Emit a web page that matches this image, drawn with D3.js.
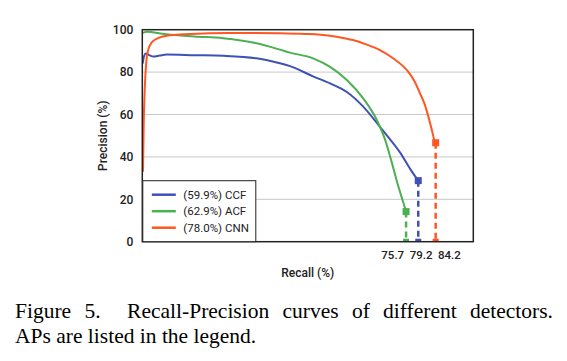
<!DOCTYPE html>
<html>
<head>
<meta charset="utf-8">
<script src="https://cdn.jsdelivr.net/npm/d3@7"></script>
<style>
  body { margin: 0; background: white; }
  svg { display: block; }
</style>
</head>
<body>
<svg id="chart" width="567" height="361"></svg>
<script>
const width = 567;
const height = 361;
const margin = {"top": 29.7, "bottom": 119.3, "right": 93.7, "left": 142.3};

// recall (%), precision (%)
const ccfPoints = [[0.1, 84], [0.5, 87.5], [1, 88.8], [2, 88], [3.2, 87.3], [5, 87.8], [7, 88.3],
  [15, 88], [23.2, 87.7], [32.8, 86.5], [39.5, 84.2], [42.4, 82.8], [49, 78], [53.9, 74.7],
  [58.7, 70.6], [63.4, 63.7], [68.2, 54.2], [71, 48.5], [74, 42], [77, 34], [79.2, 28.8]];
const acfPoints = [[0.1, 98.5], [1.5, 99], [3, 98.8], [7, 97.8], [15, 96.8], [23.2, 96],
  [32.8, 93.6], [39.5, 90.6], [42.4, 89.2], [49, 86.5], [53.9, 82.5], [58.7, 76.3],
  [63.4, 67.6], [67.3, 57.4], [69.7, 48], [71.5, 38], [73.5, 26], [75, 18], [75.7, 14.2]];
const cnnPoints = [[0.2, 33], [0.4, 55], [0.7, 72], [1.1, 84], [1.6, 90], [2.7, 94], [4.5, 96],
  [7, 97.2], [13.7, 98], [25, 98.5], [39.5, 98.3], [48, 98], [53.9, 97.2], [58, 96],
  [60.5, 95.1], [64, 93.2], [68.2, 90.4], [72, 86.5], [76.3, 80.2], [78, 76], [79.7, 70],
  [81, 65], [82.1, 59], [83.2, 52], [83.8, 48], [84.2, 46.7]];

const seriesNames = ["(59.9%) CCF", "(62.9%) ACF", "(78.0%) CNN"];
const seriesColors = ["#3f51b5", "#4caf50", "#ff5722"];
const yTicks = [0, 20, 40, 60, 80, 100];
const recallTicks = [75.7, 79.2, 84.2];

const series = [ccfPoints, acfPoints, cnnPoints];

const w = width - margin.left - margin.right;
const h = height - margin.top - margin.bottom;

let svg = d3.select("#chart");
svg.append("rect").attr("width", width).attr("height", height).attr("fill", "white");

let xScale = d3.scaleLinear().domain([0, 95]).range([0, w]);
let yScale = d3.scaleLinear().domain([0, 100]).range([h, 0]);

let g = svg.append("g").attr("transform", "translate(" + margin.left + "," + margin.top + ")");

svg.append("clipPath").attr("id", "plot")
  .append("rect").attr("x", 0).attr("y", 0).attr("width", w).attr("height", h);

// gridlines
g.selectAll("line.grid")
  .data(yTicks.filter(d => d > 0 && d < 100)).enter()
  .append("line")
    .attr("class", "grid")
    .attr("x1", 0).attr("x2", w)
    .attr("y1", d => yScale(d)).attr("y2", d => yScale(d))
    .attr("stroke", "#c8c8c8").attr("stroke-width", 1);

// y tick labels
g.append("g")
    .call(d3.axisLeft(yScale).tickValues(yTicks).tickSize(0).tickPadding(9))
    .call(a => a.select(".domain").remove())
    .selectAll("text")
      .attr("font-family", "Roboto").attr("font-size", "12px").attr("font-weight", 500)
      .attr("fill", "#222");

let plot = g.append("g").attr("clip-path", "url(#plot)");

// dashed drop lines
series.forEach(function(s, i) {
  let last = s[s.length - 1];
  plot.append("line")
    .attr("x1", xScale(last[0])).attr("x2", xScale(last[0]))
    .attr("y1", yScale(last[1])).attr("y2", yScale(0))
    .attr("stroke", seriesColors[i]).attr("stroke-width", 2.5)
    .attr("stroke-dasharray", "6,4");
});

let line = d3.line()
  .x(d => xScale(d[0]))
  .y(d => yScale(d[1]))
  .curve(d3.curveMonotoneX);

series.forEach(function(s, i) {
  plot.append("path")
    .datum(s)
    .attr("d", line)
    .attr("fill", "none")
    .attr("stroke", seriesColors[i])
    .attr("stroke-width", 2);
});

// end markers
series.forEach(function(s, i) {
  let last = s[s.length - 1];
  plot.append("rect")
    .attr("x", xScale(last[0]) - 3.5).attr("y", yScale(last[1]) - 3.5)
    .attr("width", 7).attr("height", 7)
    .attr("fill", seriesColors[i]);
  plot.append("rect")
    .attr("x", xScale(last[0]) - 3).attr("y", yScale(0) - 3)
    .attr("width", 6).attr("height", 6)
    .attr("fill", seriesColors[i]);
});

// frame
g.append("rect")
  .attr("x", 0).attr("y", 0).attr("width", w).attr("height", h)
  .attr("fill", "none").attr("stroke", "#222").attr("stroke-width", 1.5);

// recall labels: spread out in a row next to the drop lines
const labelGap = 28.3;
g.selectAll("text.rtick")
  .data(recallTicks).enter()
  .append("text")
    .attr("class", "rtick")
    .attr("x", (d, i) => xScale(recallTicks[1]) + 2.8 + (i - 1) * labelGap)
    .attr("y", h + 17)
    .attr("text-anchor", "middle")
    .attr("font-family", "Roboto").attr("font-size", "11.5px").attr("font-weight", 500)
    .attr("fill", "#222")
    .text(d => d.toFixed(1));

// axis titles
g.append("text")
  .attr("x", w / 2).attr("y", h + 35)
  .attr("text-anchor", "middle")
  .attr("font-family", "Roboto").attr("font-size", "12px").attr("font-weight", 500)
  .attr("fill", "#222")
  .text("Recall (%)");

g.append("text")
  .attr("transform", "translate(" + (-35) + "," + (h / 2) + ") rotate(-90)")
  .attr("text-anchor", "middle")
  .attr("font-family", "Roboto").attr("font-size", "12px").attr("font-weight", 500)
  .attr("fill", "#222")
  .text("Precision (%)");

// legend
let legend = g.append("g").attr("transform", "translate(0.5," + (h - 61) + ")");
legend.append("rect")
  .attr("width", 113).attr("height", 61)
  .attr("fill", "white").attr("stroke", "#222").attr("stroke-width", 1);
seriesNames.forEach(function(name, i) {
  let yy = 14 + i * 16.5;
  legend.append("line")
    .attr("x1", 9).attr("x2", 33).attr("y1", yy).attr("y2", yy)
    .attr("stroke", seriesColors[i]).attr("stroke-width", 2.5);
  legend.append("text")
    .attr("x", 40.5).attr("y", yy + 4)
    .attr("font-family", "Roboto").attr("font-size", "11.5px")
    .attr("fill", "#222")
    .text(name);
});

// caption, first line justified word by word
const captionFont = "21.5px";
function justify(words, y, x0, x1) {
  let nodes = words.map(function(wd) {
    return svg.append("text")
      .attr("y", y)
      .attr("font-family", "Liberation Serif").attr("font-size", captionFont)
      .attr("fill", "black")
      .text(wd.t);
  });
  let widths = nodes.map(n => n.node().getComputedTextLength());
  let weights = words.slice(1).map(wd => wd.gap);
  let gap = (x1 - x0 - d3.sum(widths)) / d3.sum(weights);
  let x = x0;
  nodes.forEach(function(n, i) {
    if (i > 0) x += gap * words[i].gap;
    n.attr("x", x);
    x += widths[i];
  });
}
justify([{t: "Figure", gap: 0}, {t: "5.", gap: 1}, {t: "Recall-Precision", gap: 2},
  {t: "curves", gap: 1}, {t: "of", gap: 1}, {t: "different", gap: 1}, {t: "detectors.", gap: 1}],
  318, 15, 553);

svg.append("text")
  .attr("x", 15).attr("y", 343)
  .attr("font-family", "Liberation Serif").attr("font-size", captionFont)
  .attr("fill", "black")
  .text("APs are listed in the legend.");
</script>
</body>
</html>
